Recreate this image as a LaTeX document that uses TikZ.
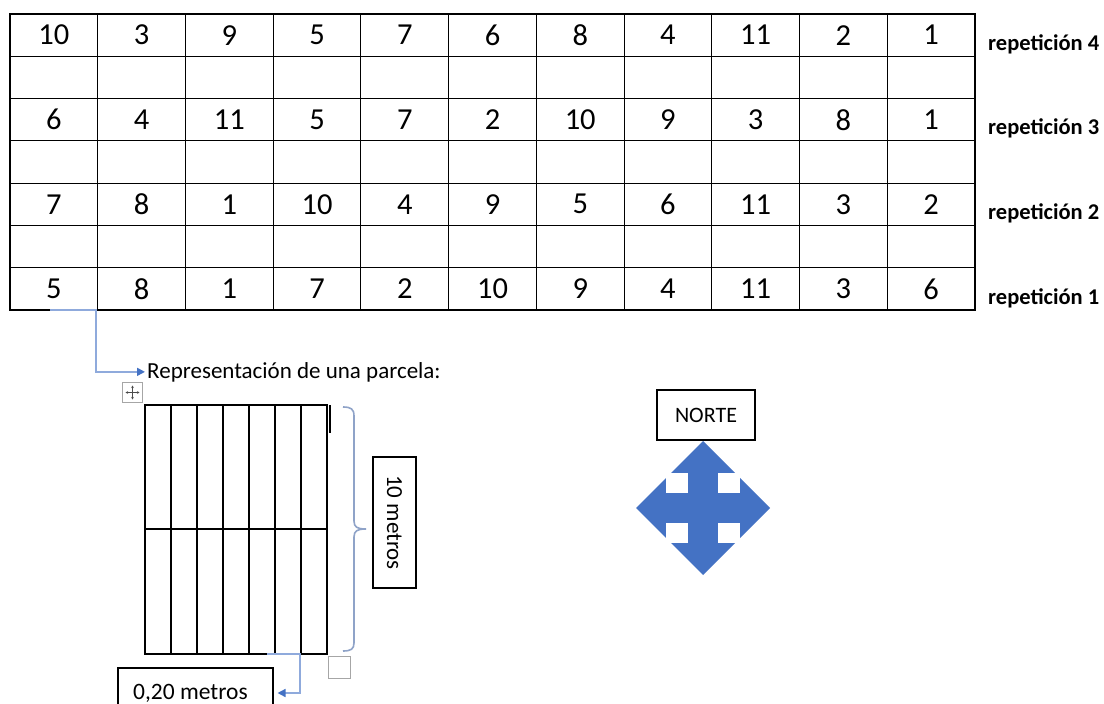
\documentclass[tikz,border=0pt]{standalone}
\usepackage{fontspec}
\setmainfont{Carlito}
\usetikzlibrary{arrows.meta}
\definecolor{officeblue}{HTML}{4472C4}
\definecolor{linkblue}{HTML}{8FAADC}
\definecolor{bracecol}{HTML}{8FA3C8}
\definecolor{handlegray}{HTML}{A6A6A6}
\newcommand\cellnum[1]{\raisebox{-2pt}{#1}}
\begin{document}
\begin{tikzpicture}[x=1pt,y=-1pt,
  cell/.style={draw, line width=1.1pt, minimum width=87.727pt, minimum height=42.286pt, inner sep=0pt, font=\fontsize{30.5}{34}\selectfont},
  replabel/.style={inner sep=0pt, anchor=base west, font=\fontsize{22.5}{26}\selectfont\bfseries},
  textbox/.style={draw, line width=1.1pt, inner sep=0pt, font=\fontsize{22}{26}\selectfont},
  link/.style={draw=linkblue, line width=1.6pt, -{Triangle[length=8pt,width=8pt,color=officeblue]}},
  plotline/.style={line width=1.2pt}
]
\clip (0,0) rectangle (1104,704);
\fill[white] (0,0) rectangle (1104,704);

% --- table ---
\def\cw{87.727}
\def\rh{42.286}
\foreach \v [count=\c] in {10,3,9,5,7,6,8,4,11,2,1}
  \node[cell] (c0-\c) at ({10+(\c-0.5)*\cw},{14+0.5*\rh}) {\cellnum{\v}};
\foreach \v [count=\c] in {6,4,11,5,7,2,10,9,3,8,1}
  \node[cell] (c2-\c) at ({10+(\c-0.5)*\cw},{14+2.5*\rh}) {\cellnum{\v}};
\foreach \v [count=\c] in {7,8,1,10,4,9,5,6,11,3,2}
  \node[cell] (c4-\c) at ({10+(\c-0.5)*\cw},{14+4.5*\rh}) {\cellnum{\v}};
\foreach \v [count=\c] in {5,8,1,7,2,10,9,4,11,3,6}
  \node[cell] (c6-\c) at ({10+(\c-0.5)*\cw},{14+6.5*\rh}) {\cellnum{\v}};
\foreach \r in {1,3,5}
  \foreach \c in {1,...,11}
    \node[cell] (c\r-\c) at ({10+(\c-0.5)*\cw},{14+(\r+0.5)*\rh}) {};

\node[replabel] (rep4) at (988,50.3) {repetición 4};
\node[replabel] (rep3) at (988,134.9) {repetición 3};
\node[replabel] (rep2) at (988,219.4) {repetición 2};
\node[replabel] (rep1) at (988,304) {repetición 1};

% --- plot representation ---
\node[inner sep=0pt, anchor=base west, font=\fontsize{23}{27}\selectfont] (parcela) at (147,378) {Representación de una parcela:};
\coordinate (s1) at (50,310);
\draw[link] (s1) -- (96,310) |- ([xshift=-2pt]parcela.west);

% move handle
\node[draw=handlegray, line width=0.8pt, minimum size=20pt, inner sep=0pt] (mv) at (132.5,392.5) {};
\draw[gray!60!black, line width=0.6pt, {Stealth[length=2.5pt,width=2.5pt]}-{Stealth[length=2.5pt,width=2.5pt]}] ([xshift=-7pt]mv.center) -- ([xshift=7pt]mv.center);
\draw[gray!60!black, line width=0.6pt, {Stealth[length=2.5pt,width=2.5pt]}-{Stealth[length=2.5pt,width=2.5pt]}] ([yshift=-7pt]mv.center) -- ([yshift=7pt]mv.center);

% grid
\node[draw, line width=1.2pt, minimum width=182pt, minimum height=249pt, inner sep=0pt] (plot) at (236,529.5) {};
\foreach \i in {1,...,6}
  \draw[plotline] ({145+\i*26},405) -- ({145+\i*26},654);
\draw[plotline] (145,529) -- (327,529);
\draw[line width=1.3pt] (330,405) -- (330,433);

% brace
\draw[bracecol, line width=1.6pt] (343,407) .. controls (351,407) and (354,409) .. (354,416) -- (354,521)
  .. controls (354,527) and (357,529) .. (366,529)
  .. controls (357,529) and (354,531) .. (354,537) -- (354,643)
  .. controls (354,649) and (351,651) .. (343,651);

\node[textbox, font=\fontsize{23}{27}\selectfont, rotate=-90, minimum width=131pt, minimum height=43pt] (tenm) at (394.5,522.5) {10 metros};

% handle square
\node[draw=handlegray, line width=1pt, minimum size=22pt, inner sep=0pt] (hsq) at (339,667) {};

% 0,20 metros
\node[textbox, minimum width=155pt, minimum height=52pt] (n020) at (195.5,694) {};
\node[inner sep=0pt, anchor=base west, font=\fontsize{23.5}{27}\selectfont] (n020t) at (133,699) {0,20 metros};
\coordinate (s2) at (267,654);
\draw[link, shorten >=4pt] (s2) -- (300,654) |- (n020.east |- 0,693);

% north
\node[textbox, minimum width=98pt, minimum height=50pt] (norte) at (706,415) {NORTE};
\fill[officeblue] (703,441) -- (770,508) -- (703,575) -- (636,508) -- cycle;
\fill[white] (666,473) rectangle (688,493);
\fill[white] (718,473) rectangle (740,493);
\fill[white] (666,523) rectangle (688,543);
\fill[white] (718,523) rectangle (740,543);
\end{tikzpicture}
\end{document}
